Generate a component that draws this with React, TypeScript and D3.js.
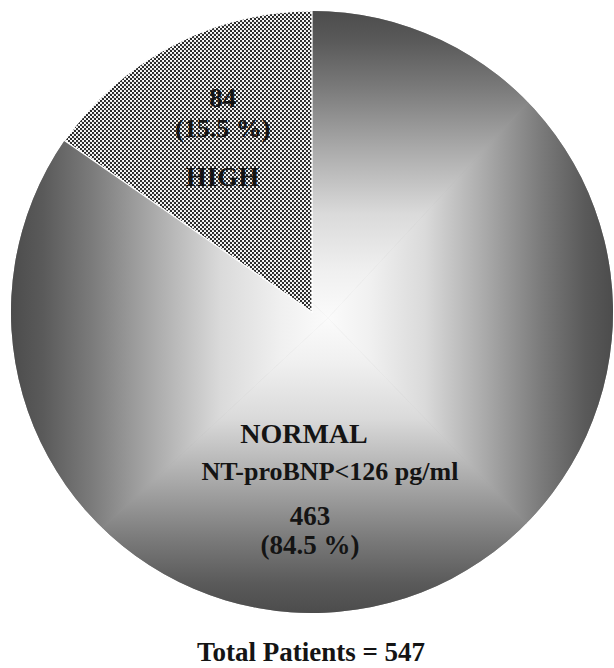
import React from "react";
import * as d3 from "d3";

const categories = ["HIGH", "NORMAL"];
const counts = [84, 463];
const percents = ["15.5 %", "84.5 %"];
const thresholdLabel = "NT-proBNP<126 pg/ml";
const totalLabel = "Total Patients = 547";

const W = 614;
const H = 668;
const cx = 312;
const cy = 312;
const R = 301;
// light focus of the rectangular gradient
const gx = 328;
const gy = 318;

const FONT = "'Liberation Serif', 'Times New Roman', serif";

export default function App() {
  const total = d3.sum(counts);
  const theta = (2 * Math.PI * counts[0]) / total;
  const pie = d3
    .pie<number>()
    .sort(null)
    .value((d) => d)
    .startAngle(-theta)
    .endAngle(2 * Math.PI - theta);
  const arcs = pie(counts);
  const arc = d3.arc<d3.PieArcDatum<number>>().innerRadius(0).outerRadius(R);
  const labelArc = d3
    .arc<d3.PieArcDatum<number>>()
    .innerRadius(R * 0.64)
    .outerRadius(R * 0.64);

  const highC = labelArc.centroid(arcs[0]);
  const x0 = cx - R, x1 = cx + R, y0 = cy - R, y1 = cy + R;

  const stops = [
    { o: 0, c: "#4c4c4c" },
    { o: 0.1, c: "#5a5a5a" },
    { o: 0.25, c: "#7a7a7a" },
    { o: 0.45, c: "#aaaaaa" },
    { o: 0.66, c: "#dadada" },
    { o: 0.85, c: "#f0f0f0" },
    { o: 1, c: "#fbfbfb" },
  ];
  const grads = [
    { id: "gT", x1: gx, y1: y0, x2: gx, y2: gy, pts: [[x0, y0], [x1, y0], [gx, gy]] },
    { id: "gR", x1: x1, y1: gy, x2: gx, y2: gy, pts: [[x1, y0], [x1, y1], [gx, gy]] },
    { id: "gB", x1: gx, y1: y1, x2: gx, y2: gy, pts: [[x1, y1], [x0, y1], [gx, gy]] },
    { id: "gL", x1: x0, y1: gy, x2: gx, y2: gy, pts: [[x0, y1], [x0, y0], [gx, gy]] },
  ];

  return (
    <svg
      width={W}
      height={H}
      style={{ position: "absolute", left: 0, top: 0, background: "#fff" }}
    >
      <defs>
        {grads.map((g) => (
          <linearGradient
            key={g.id}
            id={g.id}
            gradientUnits="userSpaceOnUse"
            x1={g.x1}
            y1={g.y1}
            x2={g.x2}
            y2={g.y2}
          >
            {stops.map((s, i) => (
              <stop key={i} offset={s.o} stopColor={s.c} />
            ))}
          </linearGradient>
        ))}
        <pattern id="checker" width={4} height={4} patternUnits="userSpaceOnUse">
          <rect width={4} height={4} fill="#fff" />
          <circle cx={1} cy={1} r={1.15} fill="#222" />
          <circle cx={3} cy={3} r={1.15} fill="#222" />
        </pattern>
        <clipPath id="normalClip">
          <path d={arc(arcs[1]) || ""} transform={`translate(${cx},${cy})`} />
        </clipPath>
      </defs>

      <g clipPath="url(#normalClip)">
        <rect x={x0} y={y0} width={2 * R} height={2 * R} fill="#999" />
        {grads.map((g) => (
          <polygon
            key={g.id}
            points={g.pts.map((p) => p.join(",")).join(" ")}
            fill={`url(#${g.id})`}
            stroke={`url(#${g.id})`}
            strokeWidth={0.6}
          />
        ))}
      </g>
      <g transform={`translate(${cx},${cy})`}>
        <path d={arc(arcs[0]) || ""} fill="url(#checker)" stroke="#fff" strokeWidth={1.2} />
      </g>

      <g fontFamily={FONT} fontWeight="bold" fill="#141414" textAnchor="middle">
        <text x={highC[0] + cx} y={highC[1] + cy - 34} fontSize={27}>
          {counts[0]}
        </text>
        <text x={highC[0] + cx} y={highC[1] + cy - 4} fontSize={26}>
          ({percents[0]})
        </text>
        <text x={highC[0] + cx} y={highC[1] + cy + 45} fontSize={27}>
          {categories[0]}
        </text>

        <text x={cx - 8} y={cy + 131} fontSize={28}>
          {categories[1]}
        </text>
        <text x={cx + 18} y={cy + 168} fontSize={26}>
          {thresholdLabel}
        </text>
        <text x={cx - 2} y={cy + 213} fontSize={27}>
          {counts[1]}
        </text>
        <text x={cx - 2} y={cy + 242} fontSize={27}>
          ({percents[1]})
        </text>

        <text x={cx - 1} y={H - 7} fontSize={27}>
          {totalLabel}
        </text>
      </g>
    </svg>
  );
}
